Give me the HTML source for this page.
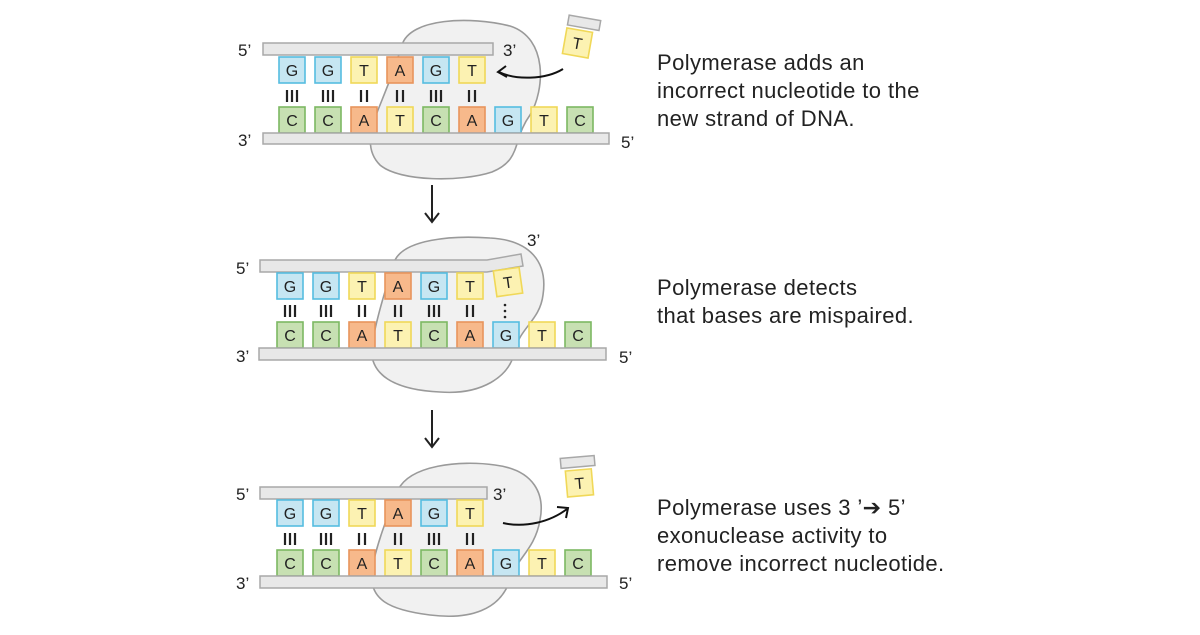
<!DOCTYPE html>
<html><head><meta charset="utf-8"><style>
html,body{margin:0;padding:0;background:#fff;}
svg{display:block;}
text{font-family:"Liberation Sans",sans-serif;fill:#222;}
.b{font-size:16px;text-anchor:middle;}
.l{font-size:17px;}
.t{font-size:22px;letter-spacing:0.4px;}
.bar{fill:#e8e8e8;stroke:#a8a8a8;stroke-width:1.5;}
.blob{fill:#f1f1f1;stroke:#9a9a9a;stroke-width:1.6;}
.G{fill:#c6e6f2;stroke:#55bde0;stroke-width:1.6;}
.T{fill:#fcf2b2;stroke:#f0d858;stroke-width:1.6;}
.A{fill:#f7b98b;stroke:#e8945c;stroke-width:1.6;}
.C{fill:#c7e0b2;stroke:#7cb862;stroke-width:1.6;}
.bd{stroke:#222;stroke-width:2.2;}
</style></head><body>
<svg width="1200" height="635" viewBox="0 0 1200 635" xmlns="http://www.w3.org/2000/svg">
<defs>
<g id="bot">
  <rect class="C" x="279" y="0" width="26" height="26"/><text class="b" x="292" y="19">C</text>
  <rect class="C" x="315" y="0" width="26" height="26"/><text class="b" x="328" y="19">C</text>
  <rect class="A" x="351" y="0" width="26" height="26"/><text class="b" x="364" y="19">A</text>
  <rect class="T" x="387" y="0" width="26" height="26"/><text class="b" x="400" y="19">T</text>
  <rect class="C" x="423" y="0" width="26" height="26"/><text class="b" x="436" y="19">C</text>
  <rect class="A" x="459" y="0" width="26" height="26"/><text class="b" x="472" y="19">A</text>
  <rect class="G" x="495" y="0" width="26" height="26"/><text class="b" x="508" y="19">G</text>
  <rect class="T" x="531" y="0" width="26" height="26"/><text class="b" x="544" y="19">T</text>
  <rect class="C" x="567" y="0" width="26" height="26"/><text class="b" x="580" y="19">C</text>
</g>
<g id="top">
  <rect class="G" x="279" y="0" width="26" height="26"/><text class="b" x="292" y="19">G</text>
  <rect class="G" x="315" y="0" width="26" height="26"/><text class="b" x="328" y="19">G</text>
  <rect class="T" x="351" y="0" width="26" height="26"/><text class="b" x="364" y="19">T</text>
  <rect class="A" x="387" y="0" width="26" height="26"/><text class="b" x="400" y="19">A</text>
  <rect class="G" x="423" y="0" width="26" height="26"/><text class="b" x="436" y="19">G</text>
  <rect class="T" x="459" y="0" width="26" height="26"/><text class="b" x="472" y="19">T</text>
</g>
<g id="bonds">
  <path class="bd" d="M287 0v12M292 0v12M297 0v12M323 0v12M328 0v12M333 0v12M361 0v12M367 0v12M397 0v12M403 0v12M431 0v12M436 0v12M441 0v12M469 0v12M475 0v12"/>
</g>
<path id="blob" class="blob" d="M402 45 C410 18 470 16 510 26 C548 38 545 90 530 115 C512 140 522 160 492 172 C462 182 400 182 380 165 C365 150 370 130 378 110 C388 85 395 68 402 45 Z"/>
</defs>

<!-- Panel 1 -->
<use href="#blob"/>
<rect class="bar" x="263" y="43" width="230" height="12"/>
<use href="#top" x="0" y="57"/>
<use href="#bonds" x="0" y="90"/>
<use href="#bot" x="0" y="107"/>
<rect class="bar" x="263" y="133" width="346" height="11"/>
<text class="l" x="238" y="56">5’</text>
<text class="l" x="503" y="56">3’</text>
<text class="l" x="238" y="146">3’</text>
<text class="l" x="621" y="148">5’</text>
<g transform="rotate(10 578 40)">
  <rect class="bar" x="565" y="17" width="32" height="10"/>
  <rect class="T" x="565" y="30" width="26" height="26"/><text class="b" x="578" y="49">T</text>
</g>
<path d="M563 69 C545 80 515 80 499 72" fill="none" stroke="#111" stroke-width="2"/>
<path d="M506 66 L498 72 L507 77" fill="none" stroke="#111" stroke-width="2"/>
<text class="t" x="657" y="70">Polymerase adds an</text>
<text class="t" x="657" y="98">incorrect nucleotide to the</text>
<text class="t" x="657" y="126">new strand of DNA.</text>

<!-- arrow 1 -->
<path d="M432 185 V221 M425 213 L432 222 L439 213" fill="none" stroke="#222" stroke-width="2"/>

<!-- Panel 2 -->
<path class="blob" d="M395 260 C405 240 450 235 490 238 C530 240 548 262 543 295 C540 320 520 328 515 350 C510 378 480 395 440 392 C395 390 368 375 372 345 C376 320 385 290 395 260 Z"/>
<path class="bar" d="M260 260 L487 260 L521 254 L523 266 L487 272 L260 272 Z"/>
<g transform="translate(-2,273)"><use href="#top"/></g>
<g transform="rotate(-8 508 282)"><rect class="T" x="495" y="269" width="26" height="26"/><text class="b" x="508" y="288">T</text></g>
<g transform="translate(-2,305)"><use href="#bonds"/></g>
<circle cx="505" cy="305" r="1.3" fill="#222"/><circle cx="505" cy="311" r="1.3" fill="#222"/><circle cx="505" cy="317" r="1.3" fill="#222"/>
<g transform="translate(-2,322)"><use href="#bot"/></g>
<rect class="bar" x="259" y="348" width="347" height="12"/>
<text class="l" x="236" y="274">5’</text>
<text class="l" x="527" y="246">3’</text>
<text class="l" x="236" y="362">3’</text>
<text class="l" x="619" y="363">5’</text>
<text class="t" x="657" y="295">Polymerase detects</text>
<text class="t" x="657" y="323">that bases are mispaired.</text>

<!-- arrow 2 -->
<path d="M432 410 V446 M425 438 L432 447 L439 438" fill="none" stroke="#222" stroke-width="2"/>

<!-- Panel 3 -->
<path class="blob" d="M398 490 C410 465 460 460 495 465 C535 470 545 495 540 520 C535 550 515 560 510 580 C500 610 470 620 430 615 C390 610 368 600 372 570 C376 545 388 515 398 490 Z"/>
<rect class="bar" x="260" y="487" width="227" height="12"/>
<g transform="translate(-2,500)"><use href="#top"/></g>
<g transform="translate(-2,533)"><use href="#bonds"/></g>
<g transform="translate(-2,550)"><use href="#bot"/></g>
<rect class="bar" x="260" y="576" width="347" height="12"/>
<text class="l" x="236" y="500">5’</text>
<text class="l" x="493" y="500">3’</text>
<text class="l" x="236" y="589">3’</text>
<text class="l" x="619" y="589">5’</text>
<g transform="rotate(-5 578 478)">
  <rect class="bar" x="562" y="457" width="34" height="10"/>
  <rect class="T" x="566" y="470" width="26" height="26"/><text class="b" x="579" y="489">T</text>
</g>
<path d="M503 523 C525 528 550 522 567 509" fill="none" stroke="#111" stroke-width="2"/>
<path d="M557 507 L568 508 L566 518" fill="none" stroke="#111" stroke-width="2"/>
<text class="t" x="657" y="515">Polymerase uses 3 ’➔ 5’</text>
<text class="t" x="657" y="543">exonuclease activity to</text>
<text class="t" x="657" y="571">remove incorrect nucleotide.</text>
</svg>
</body></html>
